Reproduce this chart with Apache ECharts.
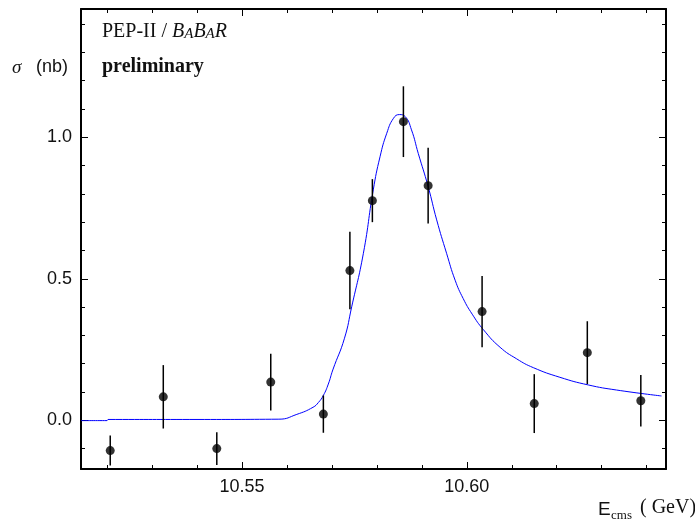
<!DOCTYPE html>
<html><head><meta charset="utf-8">
<script src="https://cdn.jsdelivr.net/npm/echarts@6/dist/echarts.min.js"></script>
<style>html,body{margin:0;padding:0;background:#fff}#c{width:695px;height:523px}</style>
</head><body><div id="c"></div>
<script>
// Measured cross sections
const energies = [10.5207, 10.5325, 10.5444, 10.5564, 10.5681, 10.5740, 10.5790, 10.5859, 10.5914, 10.6034, 10.6150, 10.6268, 10.6387];
const sigma    = [-0.107, 0.083, -0.100, 0.135, 0.022, 0.529, 0.776, 1.055, 0.829, 0.384, 0.059, 0.239, 0.069];
const sigmaErr = [0.053, 0.112, 0.058, 0.100, 0.066, 0.137, 0.076, 0.125, 0.134, 0.126, 0.104, 0.111, 0.091];
// Fit curve
const fitEnergies = [10.5142, 10.5200, 10.5202, 10.5400, 10.5582, 10.5622, 10.5658, 10.5670, 10.5681, 10.5692, 10.5702, 10.5728, 10.5744, 10.5770, 10.5792, 10.5807, 10.5822, 10.5837, 10.5850, 10.5863, 10.5877, 10.5892, 10.5914, 10.5933, 10.5955, 10.5974, 10.5992, 10.6012, 10.6037, 10.6074, 10.6111, 10.6148, 10.6207, 10.6270, 10.6333, 10.6433];
const fitSigma    = [-0.001, -0.001, 0.003, 0.003, 0.004, 0.021, 0.046, 0.063, 0.088, 0.128, 0.178, 0.290, 0.401, 0.590, 0.814, 0.931, 1.014, 1.067, 1.080, 1.073, 1.026, 0.943, 0.826, 0.708, 0.590, 0.495, 0.430, 0.375, 0.320, 0.258, 0.217, 0.186, 0.152, 0.125, 0.107, 0.086];
// Ticks
const xMajorTicks = [10.55, 10.60];
const xMinorTicks = [10.52, 10.53, 10.54, 10.56, 10.57, 10.58, 10.59, 10.61, 10.62, 10.63, 10.64];
const yMajorTicks = [0.0, 0.5, 1.0];
const yMinorTicks = [-0.1, 0.1, 0.2, 0.3, 0.4, 0.6, 0.7, 0.8, 0.9, 1.1, 1.2, 1.3, 1.4];
const xRange = [10.5142, 10.6443];
const yRange = [-0.172, 1.453];

const chart = echarts.init(document.getElementById('c'), null, {renderer: 'canvas'});
const labelFont = {fontFamily: 'Liberation Sans', fontSize: 18, color: '#111'};

function mkAxis(dim, pos, ticks, len, showLine, labels, digits) {
  const range = dim === 'x' ? xRange : yRange;
  return {
    type: 'value', position: pos, min: range[0], max: range[1],
    axisLine: {show: showLine, onZero: false, lineStyle: {color: '#000', width: 2}},
    axisTick: {show: true, inside: true, length: len, customValues: ticks, lineStyle: {color: '#000', width: 1}},
    axisLabel: labels ? Object.assign({show: true, customValues: ticks, margin: 9,
      formatter: v => v.toFixed(digits)}, labelFont) : {show: false},
    splitLine: {show: false}, minorTick: {show: false}
  };
}

const option = {
  animation: false,
  backgroundColor: '#fff',
  grid: {left: 81, right: 29, top: 9, bottom: 54, containLabel: false, outerBoundsMode: 'none'},
  xAxis: [
    mkAxis('x', 'bottom', xMajorTicks, 7, true, true, 2),
    mkAxis('x', 'bottom', xMinorTicks, 4, false, false),
    mkAxis('x', 'top', xMajorTicks, 7, true, false),
    mkAxis('x', 'top', xMinorTicks, 4, false, false)
  ],
  yAxis: [
    mkAxis('y', 'left', yMajorTicks, 7, true, true, 1),
    mkAxis('y', 'left', yMinorTicks, 4, false, false),
    mkAxis('y', 'right', yMajorTicks, 7, true, false),
    mkAxis('y', 'right', yMinorTicks, 4, false, false)
  ],
  series: [
    {
      type: 'line', xAxisIndex: 0, yAxisIndex: 0,
      data: fitEnergies.map((e, i) => [e, fitSigma[i]]),
      showSymbol: false, smooth: 0.5,
      lineStyle: {color: '#0000ff', width: 1}, z: 2
    },
    {
      type: 'custom', xAxisIndex: 0, yAxisIndex: 0,
      data: energies.map((e, i) => [e, sigma[i], sigmaErr[i]]),
      renderItem: function (params, api) {
        const x = api.value(0), y = api.value(1), err = api.value(2);
        const p1 = api.coord([x, y - err]);
        const p2 = api.coord([x, y + err]);
        return {type: 'line', shape: {x1: p1[0], y1: p1[1], x2: p2[0], y2: p2[1]},
          style: {stroke: '#000', lineWidth: 1.5}};
      }, z: 3
    },
    {
      type: 'scatter', xAxisIndex: 0, yAxisIndex: 0,
      data: energies.map((e, i) => [e, sigma[i]]),
      symbol: 'circle', symbolSize: 9, itemStyle: {color: '#000'}, z: 4
    }
  ],
  graphic: [
    {type: 'text', left: 102, top: 22, style: {
      text: '{n|PEP-II / }{i|B}{s|A}{i|B}{s|A}{i|R}',
      rich: {
        n: {fontFamily: 'Liberation Serif', fontSize: 20, fill: '#111', verticalAlign: 'bottom'},
        i: {fontFamily: 'Liberation Serif', fontStyle: 'italic', fontSize: 20, fill: '#111', verticalAlign: 'bottom'},
        s: {fontFamily: 'Liberation Serif', fontStyle: 'italic', fontSize: 15, fill: '#111', verticalAlign: 'bottom'}
      }}},
    {type: 'text', left: 102, top: 57, style: {text: 'preliminary', fontFamily: 'Liberation Serif', fontWeight: 'bold', fontSize: 20, fill: '#111'}},
    {type: 'text', left: 12, top: 58, style: {text: 'σ', fontFamily: 'Liberation Serif', fontStyle: 'italic', fontSize: 19, fill: '#111'}},
    {type: 'text', left: 36, top: 58, style: {text: '(nb)', fontFamily: 'Liberation Sans', fontSize: 18, fill: '#111'}},
    {type: 'text', left: 598, top: 500, style: {text: 'E', fontFamily: 'Liberation Sans', fontSize: 19, fill: '#111'}},
    {type: 'text', left: 611, top: 509, style: {text: 'cms', fontFamily: 'Liberation Serif', fontSize: 13, fill: '#111'}},
    {type: 'text', left: 640, top: 498, style: {text: '( GeV)', fontFamily: 'Liberation Serif', fontSize: 20, fill: '#111'}}
  ]
};
chart.setOption(option);
</script></body></html>
